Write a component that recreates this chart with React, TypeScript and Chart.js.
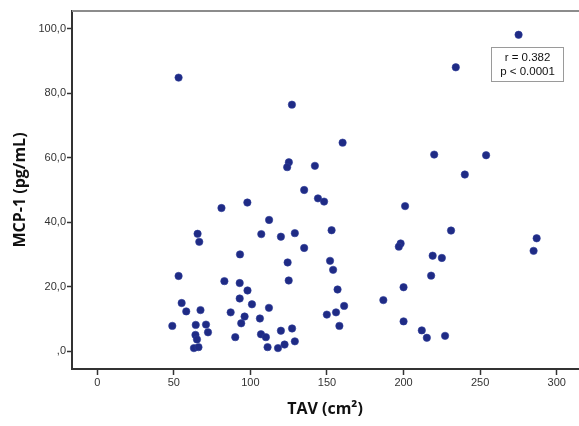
import React, { useEffect, useRef } from 'react';
import { Chart, registerables } from 'chart.js';

Chart.register(...registerables);

const tavValues = [
  49.0, 53.1, 55.1, 58.1, 65.5, 66.6, 67.4, 64.3, 64.1, 65.1,
  63.1, 66.1, 53.1, 93.2, 83.0, 93.0, 98.1, 93.0, 87.1, 96.2,
  71.0, 94.0, 72.3, 90.1, 101.0, 81.1, 98.0, 112.2, 107.1, 119.9,
  129.0, 135.1, 153.0, 124.3, 152.0, 154.0, 125.0, 156.9, 112.1, 106.2,
  161.2, 155.9, 149.9, 158.1, 106.9, 110.1, 119.9, 127.2, 129.0, 111.2,
  118.0, 122.3, 186.8, 127.1, 160.2, 125.1, 124.0, 142.1, 135.1, 144.1,
  148.1, 275.1, 234.1, 220.0, 253.9, 240.0, 201.0, 231.0, 198.1, 196.9,
  219.0, 225.0, 286.9, 284.9, 218.0, 200.0, 200.0, 211.9, 215.2, 227.1,
];
const mcp1Values = [
  7.8, 23.3, 14.9, 12.3, 36.4, 33.9, 12.7, 8.1, 5.0, 3.6,
  0.9, 1.2, 84.9, 30.0, 21.7, 21.1, 18.8, 16.3, 12.0, 10.7,
  8.2, 8.6, 5.8, 4.3, 14.5, 44.4, 46.1, 40.7, 36.3, 35.5,
  36.6, 32.0, 37.5, 27.5, 28.0, 25.2, 21.9, 19.1, 13.4, 10.1,
  14.0, 12.0, 11.3, 7.8, 5.2, 4.3, 6.3, 7.0, 3.0, 1.2,
  0.9, 2.0, 15.8, 76.5, 64.7, 58.6, 57.1, 57.5, 50.0, 47.4,
  46.4, 98.2, 88.1, 61.0, 60.8, 54.8, 45.0, 37.4, 33.4, 32.4,
  29.6, 28.9, 35.0, 31.1, 23.4, 19.8, 9.2, 6.4, 4.1, 4.7,
];

const xTickValues = [0, 50, 100, 150, 200, 250, 300];
const xTickLabels = ['0', '50', '100', '150', '200', '250', '300'];
const yTickValues = [0, 20, 40, 60, 80, 100];
const yTickLabels = [',0', '20,0', '40,0', '60,0', '80,0', '100,0'];
const xAxisTitle = 'TAV (cm²)';
const yAxisTitle = 'MCP-1 (pg/mL)';
const statLines = ['r = 0.382', 'p < 0.0001'];

const frameAndStats = {
  id: 'frameAndStats',
  afterDraw(chart: any) {
    const { ctx, chartArea } = chart;
    ctx.save();
    // top frame line
    ctx.strokeStyle = '#8c8c8c';
    ctx.lineWidth = 2;
    ctx.beginPath();
    ctx.moveTo(chartArea.left, chartArea.top);
    ctx.lineTo(chartArea.right + 2, chartArea.top);
    ctx.stroke();

    // stats box
    const bx = chartArea.right - 87;
    const by = chartArea.top + 36;
    const bw = 72;
    const bh = 34;
    ctx.fillStyle = '#ffffff';
    ctx.fillRect(bx, by, bw, bh);
    ctx.strokeStyle = '#9a9a9a';
    ctx.lineWidth = 1;
    ctx.strokeRect(bx + 0.5, by + 0.5, bw, bh);
    ctx.fillStyle = '#111111';
    ctx.font = '11.5px "Liberation Sans", Arial, sans-serif';
    ctx.textAlign = 'center';
    ctx.textBaseline = 'middle';
    ctx.fillText(statLines[0], bx + bw / 2 + 0.5, by + 11);
    ctx.fillText(statLines[1], bx + bw / 2 + 0.5, by + 25);
    ctx.restore();
  },
};

export default function App() {
  const canvasRef = useRef<HTMLCanvasElement | null>(null);

  useEffect(() => {
    if (!canvasRef.current) return;
    const points = tavValues.map((x, i) => ({ x, y: mcp1Values[i] }));
    const chart = new Chart(canvasRef.current, {
      type: 'scatter',
      data: {
        datasets: [
          {
            data: points,
            backgroundColor: '#1f2b85',
            borderColor: '#2e3c99',
            borderWidth: 0.6,
            pointRadius: 3.7,
          },
        ],
      },
      plugins: [frameAndStats],
      options: {
        responsive: false,
        animation: false,
        devicePixelRatio: 1,
        layout: { autoPadding: false, padding: { top: 11, right: 1, left: 0, bottom: 0 } },
        plugins: {
          legend: { display: false },
          tooltip: { enabled: false },
        },
        scales: {
          x: {
            type: 'linear',
            min: -16.5,
            max: 313.9,
            afterBuildTicks: (s: any) => {
              s.ticks = xTickValues.map((v) => ({ value: v }));
            },
            afterFit: (s: any) => {
              s.height = 57;
              s.paddingRight = 0;
              s.paddingLeft = 0;
            },
            grid: {
              display: true,
              drawOnChartArea: false,
              drawTicks: true,
              tickLength: 6,
              tickColor: '#333333',
              tickWidth: 1.5,
            },
            border: { display: true, color: '#333333', width: 2 },
            ticks: {
              autoSkip: false,
              maxRotation: 0,
              padding: 1,
              color: '#333333',
              font: { family: '"Liberation Sans", Arial, sans-serif', size: 11 },
              callback: (v: any) => {
                const i = xTickValues.indexOf(Number(v));
                return i >= 0 ? xTickLabels[i] : '';
              },
            },
            title: {
              display: true,
              text: xAxisTitle,
              color: '#111111',
              font: { family: '"Open Sans", sans-serif', size: 16, weight: 'bold' },
              padding: { top: 0, bottom: 6.5 },
            },
          },
          y: {
            type: 'linear',
            min: -5.59,
            max: 105.59,
            afterBuildTicks: (s: any) => {
              s.ticks = yTickValues.map((v) => ({ value: v }));
            },
            afterFit: (s: any) => {
              s.width = 72;
              s.paddingTop = 0;
              s.paddingBottom = 0;
            },
            grid: {
              display: true,
              drawOnChartArea: false,
              drawTicks: true,
              tickLength: 5,
              tickColor: '#333333',
              tickWidth: 1.5,
            },
            border: { display: true, color: '#333333', width: 2 },
            ticks: {
              autoSkip: false,
              padding: 1,
              color: '#333333',
              font: { family: '"Liberation Sans", Arial, sans-serif', size: 11 },
              callback: (v: any) => {
                const i = yTickValues.indexOf(Number(v));
                return i >= 0 ? yTickLabels[i] : '';
              },
            },
            title: {
              display: true,
              text: yAxisTitle,
              color: '#111111',
              font: { family: '"Open Sans", sans-serif', size: 16, weight: 'bold' },
              padding: { top: 10.5, bottom: 0 },
            },
          },
        },
      },
    } as any);
    return () => chart.destroy();
  }, []);

  return (
    <div style={{ position: 'fixed', left: 0, top: 0, width: 579, height: 426, background: '#ffffff' }}>
      <canvas ref={canvasRef} width={579} height={426} style={{ display: 'block' }} />
    </div>
  );
}
